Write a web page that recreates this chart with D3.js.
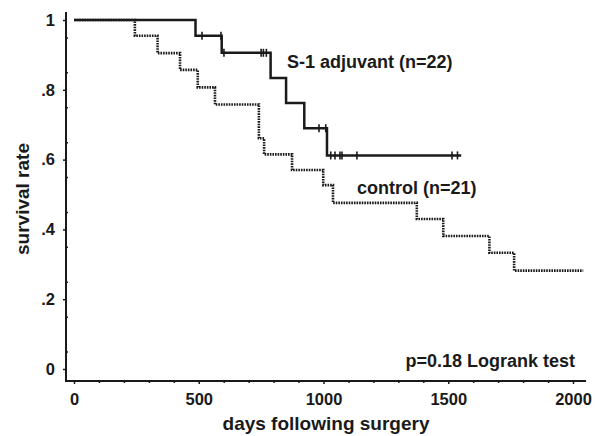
<!DOCTYPE html>
<html lang="en">
<head>
    <meta charset="UTF-8">
    <script src="https://d3js.org/d3.v7.min.js"></script>
    <title>Survival curves</title>
    <style>
        body { margin: 0; background: #fff; }
        text { font-family: "Liberation Sans", Arial, sans-serif; font-weight: bold; fill: #1a1a1a; }
    </style>
</head>
<body>
    <script>
        //S-1 adjuvant group: event days and survival after each event
        const s1Days = [0, 487, 592, 788, 850, 923, 1014];
        const s1Surv = [1, 0.955, 0.906, 0.834, 0.762, 0.690, 0.612];
        const s1End = 1552;
        const s1Censor = [513, 589, 601, 750, 759, 771, 982, 1009, 1029, 1046, 1066, 1074, 1134, 1515, 1537];

        //control group
        const ctDays = [0, 244, 335, 425, 496, 565, 741, 762, 874, 999, 1038, 1374, 1480, 1665, 1764];
        const ctSurv = [1, 0.955, 0.905, 0.857, 0.807, 0.758, 0.661, 0.615, 0.570, 0.527, 0.476, 0.430, 0.381, 0.333, 0.282];
        const ctEnd = 2041;

        const xTicks = [0, 500, 1000, 1500, 2000];
        const yTicks = [0, 0.2, 0.4, 0.6, 0.8, 1];

        const w = 595;
        const h = 436;
        const ink = "#1a1a1a";

        const svg = d3.select("body")
        .append("svg")
        .attr("width", w)
        .attr("height", h);

        svg.append("rect").attr("width", w).attr("height", h).attr("fill", "#fff");

        //scales
        const xScale = d3.scaleLinear().domain([0, 2000]).range([74, 573]);
        const yScale = d3.scaleLinear().domain([0, 1]).range([369, 20]);

        const axisX = 66;
        const axisY = 381;

        //axis lines
        svg.append("line")
        .attr("x1", axisX).attr("x2", axisX)
        .attr("y1", 12).attr("y2", axisY)
        .attr("stroke", ink).attr("stroke-width", 2);

        svg.append("line")
        .attr("x1", axisX - 1).attr("x2", 586)
        .attr("y1", axisY).attr("y2", axisY)
        .attr("stroke", ink).attr("stroke-width", 2);

        //x-axis
        const xAxis = d3.axisBottom(xScale).tickValues(xTicks).tickSize(3).tickPadding(9).tickFormat(d3.format("d"));
        svg.append("g")
        .attr("transform", "translate(0, " + axisY + ")")
        .call(xAxis)
        .attr("id", "x-axis");

        const xMinor = d3.axisBottom(xScale).tickValues(d3.range(100, 2001, 100).filter(d => d % 500)).tickSize(2).tickFormat("");
        svg.append("g")
        .attr("transform", "translate(0, " + axisY + ")")
        .call(xMinor);

        //y-axis
        const yFmt = d => d === 0 ? "0" : d === 1 ? "1" : d3.format(".1f")(d).replace(/^0/, "");
        const yAxis = d3.axisLeft(yScale).tickValues(yTicks).tickSize(3).tickPadding(8).tickFormat(yFmt);
        svg.append("g")
        .attr("transform", "translate(" + axisX + ", 0)")
        .call(yAxis)
        .attr("id", "y-axis");

        const yMinor = d3.axisRight(yScale).tickValues(d3.range(0.05, 1, 0.1)).tickSize(2).tickFormat("");
        svg.append("g")
        .attr("transform", "translate(" + axisX + ", 0)")
        .call(yMinor);

        svg.selectAll(".domain").remove();
        svg.selectAll(".tick line").attr("stroke", ink).attr("stroke-width", 1.5);
        svg.selectAll("#x-axis text, #y-axis text")
        .attr("font-size", 16.5)
        .attr("fill", ink);

        //step curves
        const stepLine = d3.line()
        .x(d => xScale(d[0]))
        .y(d => yScale(d[1]))
        .curve(d3.curveStepAfter);

        const ctPts = ctDays.map((d, i) => [d, ctSurv[i]]);
        ctPts.push([ctEnd, ctSurv[ctSurv.length - 1]]);
        svg.append("path")
        .attr("d", stepLine(ctPts))
        .attr("fill", "none")
        .attr("stroke", ink)
        .attr("stroke-width", 2.6)
        .attr("stroke-dasharray", "1.6,1");

        const s1Pts = s1Days.map((d, i) => [d, s1Surv[i]]);
        s1Pts.push([s1End, s1Surv[s1Surv.length - 1]]);
        svg.append("path")
        .attr("d", stepLine(s1Pts))
        .attr("fill", "none")
        .attr("stroke", ink)
        .attr("stroke-width", 2.5);

        //censor marks sit on the level of the curve at that day
        const s1At = t => s1Surv[d3.bisectRight(s1Days, t) - 1];
        svg.selectAll(".censor")
        .data(s1Censor)
        .enter()
        .append("line")
        .attr("class", "censor")
        .attr("x1", d => xScale(d)).attr("x2", d => xScale(d))
        .attr("y1", d => yScale(s1At(d)) - 4)
        .attr("y2", d => yScale(s1At(d)) + 4)
        .attr("stroke", ink)
        .attr("stroke-width", 1.6);

        //labels
        svg.append("text").attr("x", 287).attr("y", 68).attr("font-size", 18).text("S-1 adjuvant (n=22)");
        svg.append("text").attr("x", 357).attr("y", 194).attr("font-size", 18).text("control (n=21)");
        svg.append("text").attr("x", 575).attr("y", 367).attr("font-size", 18).attr("text-anchor", "end").text("p=0.18 Logrank test");

        svg.append("text")
        .attr("x", 326).attr("y", 430)
        .attr("font-size", 19)
        .attr("text-anchor", "middle")
        .text("days following surgery");

        svg.append("text")
        .attr("transform", "translate(29, 199) rotate(-90)")
        .attr("font-size", 19)
        .attr("text-anchor", "middle")
        .text("survival rate");
    </script>
</body>
</html>
